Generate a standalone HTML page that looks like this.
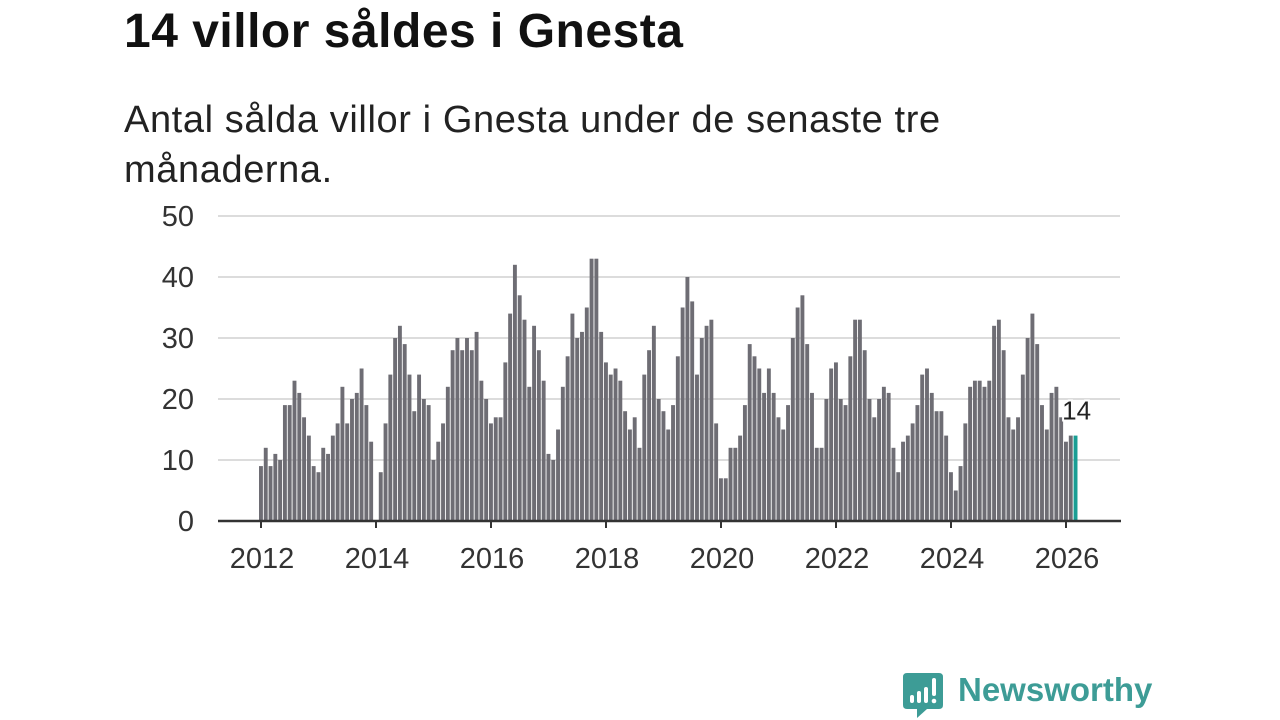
<!DOCTYPE html>
<html><head><meta charset="utf-8">
<style>
body{margin:0;background:#fff;width:1280px;height:720px;overflow:hidden;font-family:"Liberation Sans","DejaVu Sans",sans-serif;}
#title{position:absolute;left:124px;top:5px;font-size:48px;font-weight:bold;color:#111;margin:0;line-height:54px;letter-spacing:0.5px;}
#sub{position:absolute;left:124px;top:95px;font-size:38px;line-height:50px;color:#222;width:860px;margin:0;letter-spacing:0.6px;}
svg{position:absolute;left:0;top:0;}
</style></head><body>
<h1 id="title">14 villor såldes i Gnesta</h1>
<p id="sub">Antal sålda villor i Gnesta under de senaste tre månaderna.</p>
<svg id="chart" width="1280" height="720"></svg>
<script>
const startYear = 2012;
const yTicks = [0,10,20,30,40,50];
const xTickYears = [2012,2014,2016,2018,2020,2022,2024,2026];
const values = [
9,12,9,11,10,19,19,23,21,17,14,9,
8,12,11,14,16,22,16,20,21,25,19,13,
0,8,16,24,30,32,29,24,18,24,20,19,
10,13,16,22,28,30,28,30,28,31,23,20,
16,17,17,26,34,42,37,33,22,32,28,23,
11,10,15,22,27,34,30,31,35,43,43,31,
26,24,25,23,18,15,17,12,24,28,32,20,
18,15,19,27,35,40,36,24,30,32,33,16,
7,7,12,12,14,19,29,27,25,21,25,21,
17,15,19,30,35,37,29,21,12,12,20,25,
26,20,19,27,33,33,28,20,17,20,22,21,
12,8,13,14,16,19,24,25,21,18,18,14,
8,5,9,16,22,23,23,22,23,32,33,28,
17,15,17,24,30,34,29,19,15,21,22,17,
13,14,14];
const NS='http://www.w3.org/2000/svg';
const svg=document.getElementById('chart');
const x0=261, pxYear=57.5, pxMonth=pxYear/12;
const xScale=i=>x0+i*pxMonth;
const yScale=v=>521-v*6.1;
function mk(t,a){const e=document.createElementNS(NS,t);for(const k in a)e.setAttribute(k,a[k]);svg.appendChild(e);return e;}
yTicks.forEach(v=>{
  if(v>0){const g=mk('line',{x1:218,x2:1120,y1:yScale(v),y2:yScale(v),stroke:'#dcdcdc','stroke-width':2});
  
  }
  const t=mk('text',{x:194,y:yScale(v)+10,'text-anchor':'end','font-size':29,fill:'#333'});
  t.textContent=v;
  
  
});
values.forEach((v,i)=>{
  const last=i===values.length-1;
  const r=mk('rect',{x:xScale(i)-2,y:yScale(v),width:3.9,height:yScale(0)-yScale(v),fill:last?'#1a9e94':'#6e6d74'});
  
  
});
const b=mk('line',{x1:218,x2:1121,y1:521,y2:521,stroke:'#333','stroke-width':2.5});


xTickYears.forEach(yr=>{
  const x=xScale((yr-startYear)*12);
  const tk=mk('line',{x1:x,x2:x,y1:521,y2:528,stroke:'#333','stroke-width':2});
  
  
  const t=mk('text',{x:x+1,y:568,'text-anchor':'middle','font-size':29,fill:'#333'});
  t.textContent=yr;
  
  
});
const li=values.length-1;
const lab=mk('text',{x:xScale(li)+1,y:yScale(values[li])-16,'text-anchor':'middle','font-size':26,fill:'#222',stroke:'#fff','stroke-width':4,'paint-order':'stroke'});
lab.textContent=values[li];


</script>
<div style="position:absolute;left:903px;top:671px;width:260px;height:48px;">
<svg width="42" height="48" style="left:0;top:0">
<path d="M4 2 H36 Q40 2 40 6 V34 Q40 38 36 38 H24 L14 47 V38 H4 Q0 38 0 34 V6 Q0 2 4 2Z" fill="#3d9c96"/>
<rect x="7" y="24" width="4" height="8" rx="2" fill="#fff"/>
<rect x="14" y="20" width="4" height="12" rx="2" fill="#fff"/>
<rect x="21" y="16" width="4" height="16" rx="2" fill="#fff"/>
<rect x="29" y="7" width="4" height="18" rx="2" fill="#fff"/>
<circle cx="31" cy="30" r="2.3" fill="#fff"/>
</svg>
<span style="position:absolute;left:55px;top:0px;font-size:33px;font-weight:bold;color:#3d9c96;">Newsworthy</span>
</div>
</body></html>
